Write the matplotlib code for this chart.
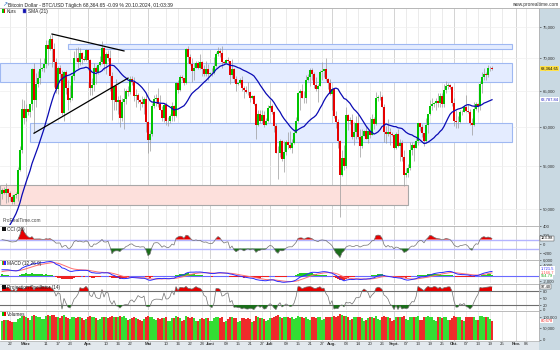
import numpy as np
import pandas as pd
import matplotlib
matplotlib.use('Agg')
import matplotlib.pyplot as plt
import matplotlib.dates as mdates
from matplotlib.patches import Rectangle
from matplotlib.ticker import FixedLocator, FuncFormatter, NullLocator

plt.rcParams['font.family'] = ['Liberation Sans', 'DejaVu Sans']

# daily closes before the visible window (only used to warm up the indicators), 08.01. - 17.02.2024
warmup_close = [46970, 46130, 46630, 46370, 42850, 42840, 41800, 42510, 43150, 42740, 41270, 41620,
                41670, 41550, 39510, 39850, 40080, 39930, 41820, 42120, 42030, 43300, 42940, 42580,
                43080, 43200, 43010, 42580, 42660, 43090, 44340, 45300, 47150, 47770, 48290, 49960,
                49700, 51800, 51940, 52130, 51660]

# visible candles 18.02. - 20.10.2024 (open = previous close)
close_feb = [52120, 51780, 52280, 51850, 51300, 50750, 51570, 51730, 54520, 57080, 62500, 61200]
high_feb = [52370, 52490, 52950, 52370, 52000, 51530, 51700, 51950, 54900, 57550, 63900, 63680]
low_feb = [51170, 51680, 50620, 50830, 50950, 50530, 50600, 51280, 50900, 54450, 56700, 60400]

close_mar = [62440, 62030, 63170, 68330, 63800, 66110, 66930, 68300, 68500, 69020, 72120, 71480, 73100, 71400,
             69400, 65300, 68390, 67600, 61930, 67840, 65500, 63800, 64100, 67200, 70000, 69990, 69450, 70780,
             69900, 69650, 71330]
high_mar = [63170, 62500, 63230, 68530, 69170, 67640, 67990, 69990, 68680, 70000, 72800, 72900, 73650, 73790,
            72400, 70000, 68800, 68900, 68100, 68030, 68200, 66600, 65950, 67500, 71100, 71500, 71700, 71500,
            70900, 70300, 71350]
low_mar = [60800, 61660, 61330, 62350, 59220, 62780, 65600, 66100, 68030, 67900, 68500, 68900, 71330, 68600,
           65600, 64800, 64600, 66600, 61600, 60800, 64600, 62300, 63400, 63800, 66700, 69500, 68400, 68900,
           69100, 69600, 69600]

close_apr = [69700, 65450, 65960, 68500, 67840, 68900, 69360, 71620, 69140, 70590, 70060, 67200, 63800, 65740,
             63420, 63810, 61280, 63510, 63840, 64990, 64930, 66840, 66410, 64290, 64500, 63770, 63460, 63120,
             63840, 60640]
high_apr = [71370, 69800, 66900, 69300, 68700, 69000, 70300, 72700, 71700, 71000, 71250, 71200, 67900, 65800,
            66800, 64360, 64450, 64000, 65450, 65400, 65700, 67200, 67200, 67100, 65300, 64800, 63900, 64300,
            64200, 64700]
low_apr = [68200, 64500, 64500, 65100, 66000, 67500, 68800, 69100, 68200, 67500, 69600, 65100, 61000, 62300,
           62300, 61800, 60000, 60900, 59700, 63200, 64300, 64600, 65900, 63600, 62800, 63300, 62400, 62800,
           61800, 59300]

close_may = [58250, 59120, 62890, 63890, 64030, 63160, 62330, 61190, 63050, 60790, 60790, 61450, 62900, 61550,
             66270, 65230, 67050, 66940, 66270, 71450, 70140, 69120, 67930, 68530, 69290, 68510, 69390, 68370,
             67620, 68370, 67490]
high_may = [60800, 59600, 63300, 64500, 64600, 65500, 64400, 62900, 63300, 63400, 61400, 61800, 63400, 63000,
            66400, 66700, 67400, 67400, 67000, 71500, 71900, 70600, 70000, 69200, 69500, 69500, 70600, 69500,
            68900, 69500, 69000]
low_may = [56600, 56900, 58800, 62600, 62900, 62800, 62300, 60900, 60700, 60300, 60200, 60600, 60800, 60800,
           61400, 64700, 65100, 66600, 65900, 66100, 69200, 68900, 66300, 66700, 68500, 68300, 68300, 67300,
           67200, 67200, 66700]

close_jun = [67710, 67750, 68800, 70560, 71080, 70760, 69340, 69300, 69650, 69510, 67330, 68240, 66760, 66010,
             66190, 66640, 65490, 65140, 64960, 64830, 64100, 64250, 63180, 60280, 61800, 60860, 61670, 60320,
             60890, 62680]
high_jun = [67900, 68400, 70200, 71000, 71700, 71600, 71900, 69600, 69900, 70100, 69600, 69900, 68400, 67300,
            66400, 66900, 67200, 65700, 65700, 66400, 65000, 64500, 64500, 63300, 62300, 62400, 62300, 62200,
            61200, 63000]
low_jun = [67400, 67300, 67600, 68600, 70300, 70100, 68500, 69100, 69200, 69200, 66100, 66900, 66300, 65100,
           65900, 66000, 65100, 64100, 64700, 64500, 63400, 63900, 63100, 58400, 60200, 60600, 60600, 60000,
           60300, 60700]

close_jul = [62850, 62030, 60170, 56650, 56640, 58230, 55860, 56710, 58050, 57720, 57340, 57900, 59230, 60800,
             64720, 65040, 64090, 63990, 66680, 67150, 68190, 67550, 65930, 65370, 65780, 67900, 68000, 68250,
             66780, 66190, 64630]
high_jul = [63800, 63200, 62200, 60500, 57500, 58400, 58300, 58200, 58300, 59400, 59500, 58500, 59800, 61400,
            64900, 65400, 66100, 65100, 67400, 67600, 68400, 68400, 67800, 67100, 66100, 68200, 69400, 68300,
            70000, 67000, 66800]
low_jul = [62500, 61800, 59400, 56600, 53500, 56100, 55700, 54300, 56400, 57200, 57100, 56600, 57800, 59200,
           60700, 62400, 64000, 63300, 63300, 66500, 65800, 66600, 65500, 65100, 63500, 65700, 66700, 67100,
           66500, 65400, 64500]

close_aug = [65350, 61500, 60680, 58120, 53990, 56030, 55030, 61710, 60880, 60940, 58710, 59350, 60610, 58740,
             57560, 58870, 59480, 58480, 59490, 59010, 61160, 60380, 64090, 64180, 64220, 62830, 59420, 59030,
             59380, 59120, 58970]
high_aug = [65600, 65500, 62200, 61100, 58300, 57000, 57700, 62700, 61800, 61400, 61800, 60700, 61500, 61800,
            59800, 59800, 59600, 60200, 59600, 61400, 61800, 61400, 64900, 64500, 65000, 64500, 63200, 60200,
            61100, 59900, 59400]
low_aug = [62300, 61200, 59900, 57300, 49100, 53800, 54600, 54800, 59600, 60400, 58400, 57700, 58500, 58400,
           56200, 57300, 58800, 58400, 57900, 58600, 58900, 59800, 60300, 63600, 63800, 62800, 58100, 57900,
           58800, 57700, 58800]

close_sep = [57300, 59140, 57480, 57970, 56160, 53950, 54140, 54840, 57020, 57650, 57340, 58130, 60570, 60000,
             59180, 58190, 60310, 61760, 62950, 63200, 63350, 63580, 63340, 64280, 63150, 65180, 65790, 65890,
             65640, 63330]
high_sep = [59100, 59400, 59800, 58500, 58300, 57000, 54800, 55300, 58000, 58000, 57900, 58600, 60600, 60600,
            60400, 59200, 61300, 61800, 63800, 64100, 63500, 64000, 64700, 64800, 64700, 66000, 66500, 66200,
            66000, 65700]
low_sep = [57200, 57200, 57400, 55600, 55700, 52600, 53700, 53700, 54600, 56400, 55600, 57300, 57700, 59500,
           58700, 57500, 57900, 59200, 61600, 62400, 62800, 62400, 62700, 62700, 62700, 62700, 64800, 65400,
           65400, 62900]

close_oct = [60840, 60630, 60750, 62090, 62060, 62820, 62220, 62130, 60580, 60270, 62450, 63190, 62850, 66080,
             67040, 67610, 67390, 68420, 68430, 68364.65]
high_oct = [64100, 62400, 61500, 62400, 62400, 63000, 64400, 63200, 62500, 61300, 63400, 63500, 63300, 66500,
            67900, 68400, 67900, 68900, 68700, 68800]
low_oct = [60200, 59900, 59900, 60500, 61700, 62000, 62100, 61900, 60300, 58900, 60100, 62400, 62100, 62400,
           64800, 66700, 66700, 67100, 68000, 68100]

# volumes in thousands
vol_feb = [80, 84, 86, 84, 82, 78, 76, 75, 88, 95, 104, 102]
vol_mar = [98, 92, 86, 102, 108, 104, 100, 98, 88, 90, 104, 106, 102, 108, 106, 98, 96, 94, 104, 106,
           100, 94, 90, 96, 100, 94, 96, 98, 92, 86, 90]
vol_apr = [98, 102, 96, 98, 94, 86, 88, 98, 100, 96, 94, 100, 104, 96, 98, 100, 102, 100, 104, 92,
           84, 90, 92, 96, 94, 90, 84, 82, 90, 100]
vol_may = [104, 100, 98, 88, 86, 92, 90, 92, 94, 96, 80, 82, 92, 94, 104, 96, 94, 82, 84, 104,
           100, 94, 96, 92, 82, 80, 90, 92, 90, 94, 92]
vol_jun = [80, 82, 92, 98, 96, 94, 98, 78, 80, 90, 96, 98, 94, 92, 78, 80, 92, 94, 90, 92,
           90, 76, 80, 102, 98, 92, 94, 90, 80, 84]
vol_jul = [94, 92, 98, 104, 106, 96, 92, 100, 98, 96, 94, 96, 90, 92, 102, 100, 96, 94, 98, 88,
           86, 96, 98, 94, 100, 96, 86, 88, 98, 96, 98]
vol_aug = [100, 104, 100, 102, 112, 106, 102, 104, 98, 86, 90, 98, 96, 98, 100, 94, 82, 84, 94, 96,
           96, 94, 102, 88, 86, 96, 102, 98, 96, 94, 82]
vol_sep = [84, 96, 98, 98, 96, 104, 88, 86, 100, 98, 96, 98, 102, 86, 84, 98, 100, 102, 98, 96,
           84, 82, 96, 98, 94, 100, 96, 86, 84, 94]
vol_oct = [102, 100, 98, 96, 84, 82, 98, 96, 100, 98, 96, 86, 84, 102, 104, 100, 98, 100, 88, 80.678]

# drawn zones and trend lines: start, end, low, high
zone_top = ['2024-03-22', '2024-10-30', 71430, 72230]
zone_mid = ['2024-02-17', '2024-10-30', 66330, 69290]
zone_low = ['2024-03-03', '2024-10-30', 58090, 60600]
zone_pink = ['2024-02-17', '2024-09-08', 50450, 52780]
trend_top = [('2024-03-14', 73840), ('2024-04-19', 71110)]
trend_bottom = [('2024-03-05', 59200), ('2024-04-21', 66930)]

tick_dates = ['2024-02-22', '2024-03-01', '2024-03-11', '2024-03-17', '2024-03-23', '2024-04-01', '2024-04-10',
              '2024-04-16', '2024-04-22', '2024-05-01', '2024-05-10', '2024-05-16', '2024-05-22', '2024-05-28',
              '2024-06-01', '2024-06-09', '2024-06-15', '2024-06-21', '2024-06-27', '2024-07-01', '2024-07-09',
              '2024-07-15', '2024-07-21', '2024-07-27', '2024-08-01', '2024-08-08', '2024-08-14', '2024-08-20',
              '2024-08-26', '2024-09-01', '2024-09-07', '2024-09-13', '2024-09-19', '2024-09-25', '2024-10-01',
              '2024-10-07', '2024-10-13', '2024-10-19', '2024-10-25', '2024-11-01', '2024-11-06']
tick_labels = ['22', 'März', '11', '17', '23', 'Apr.', '10', '16', '22', 'Mai', '10', '16', '22', '28',
               'Juni', '09', '15', '21', '27', 'Juli', '09', '15', '21', '27', 'Aug.', '08', '14', '20', '26',
               'Sept.', '07', '13', '19', '25', 'Okt.', '07', '13', '19', '25', 'Nov.', '06']
month_labels = ['März', 'Apr.', 'Mai', 'Juni', 'Juli', 'Aug.', 'Sept.', 'Okt.', 'Nov.']

GREEN = '#00c400'
RED = '#e60000'
W, H = 560, 350

# ---- series ----
dates = pd.date_range('2024-02-18', '2024-10-20', freq='D')
close = np.array(close_feb + close_mar + close_apr + close_may + close_jun + close_jul + close_aug + close_sep + close_oct, float)
high = np.array(high_feb + high_mar + high_apr + high_may + high_jun + high_jul + high_aug + high_sep + high_oct, float)
low = np.array(low_feb + low_mar + low_apr + low_may + low_jun + low_jul + low_aug + low_sep + low_oct, float)
vol = np.array(vol_feb + vol_mar + vol_apr + vol_may + vol_jun + vol_jul + vol_aug + vol_sep + vol_oct, float) * 1000
opn = np.concatenate([[warmup_close[-1]], close[:-1]])
x = mdates.date2num(dates)
up = close >= opn
nw = len(warmup_close)

all_c = np.concatenate([warmup_close, close])
all_h = np.concatenate([warmup_close, high])
all_l = np.concatenate([warmup_close, low])
s = pd.Series(all_c)

sma = s.rolling(21).mean().values[nw:]

tp = pd.Series((all_h + all_l + all_c) / 3)
md = tp.rolling(20).apply(lambda v: np.mean(np.abs(v - v.mean())), raw=True)
cci = ((tp - tp.rolling(20).mean()) / (0.015 * md)).values[nw:]

macd_all = s.ewm(span=12, adjust=False).mean() - s.ewm(span=26, adjust=False).mean()
sig_all = macd_all.ewm(span=9, adjust=False).mean()
macd = macd_all.values[nw:]
signal = sig_all.values[nw:]
hist = macd - signal


def projection_osc(h, l, c, n=14):
    out = np.full(len(c), np.nan)
    idx = np.arange(n)
    for t in range(n - 1, len(c)):
        m = np.polyfit(idx, c[t - n + 1:t + 1], 1)[0]
        shift = m * (n - 1 - idx)
        ub = np.max(h[t - n + 1:t + 1] - shift)
        lb = np.min(l[t - n + 1:t + 1] - shift)
        out[t] = 100 * (c[t] - lb) / (ub - lb)
    return out


po = projection_osc(all_h, all_l, all_c)[nw:]

# ---- figure ----
fig = plt.figure(figsize=(W / 100, H / 100), dpi=100)
fig.patch.set_facecolor('white')

x0 = mdates.date2num(pd.Timestamp('2024-02-17'))
x1 = x0 + 539 / 2
tick_x = mdates.date2num(pd.to_datetime(tick_dates))


def px_rect(left, top, w, h, **kw):
    fig.add_artist(Rectangle((left / W, 1 - (top + h) / H), w / W, h / H, transform=fig.transFigure, **kw))


def px_text(left, top, txt, **kw):
    fig.text(left / W, 1 - top / H, txt, **kw)


# right price column and bottom date strip
px_rect(539, 8, 21, 342, facecolor='#c9d9e2', edgecolor='none', zorder=-1)
px_rect(0, 341, 539, 9, facecolor='#e2e8ed', edgecolor='none', zorder=-1)
fig.add_artist(plt.Line2D([0, 1], [1 - 8 / H, 1 - 8 / H], transform=fig.transFigure, color='#b8b8b8', lw=0.6))


def panel(top, bottom, ylim):
    ax = fig.add_axes([0, 1 - bottom / H, 539 / W, (bottom - top) / H])
    ax.set_xlim(x0, x1)
    ax.set_ylim(*ylim)
    for sp in ['left', 'bottom']:
        ax.spines[sp].set_visible(False)
    for sp in ['top', 'right']:
        ax.spines[sp].set_color('#b0b0b0')
        ax.spines[sp].set_linewidth(0.6)
    ax.yaxis.tick_right()
    ax.tick_params(axis='y', labelsize=3.1, length=1.5, width=0.4, pad=1.0, colors='#333333')
    ax.tick_params(axis='x', bottom=False, labelbottom=False)
    for tx, lab in zip(tick_x, tick_labels):
        ax.axvline(tx, color='#cccccc' if lab in month_labels else '#e8e8e8', lw=0.6, zorder=0)
    return ax


def side_label(ax, val, txt, fc='white', ec='none', color='black', frac=None):
    if frac is None:
        xy, coords = (1, val), ('axes fraction', 'data')
    else:
        xy, coords = (1, frac), 'axes fraction'
    ax.annotate(txt, xy=xy, xycoords=coords, xytext=(1.2, 0),
                textcoords='offset points', fontsize=2.9, va='center', ha='left', color=color,
                annotation_clip=False, bbox=dict(boxstyle='square,pad=0.12', fc=fc, ec=ec, lw=0.3))


# main price panel
ax = panel(8, 225, (48250, 78250))
ax.set_yscale('log')
ax.set_ylim(48250, 78250)
price_ticks = [50000, 55000, 60000, 65000, 70000, 75000]
ax.yaxis.set_major_locator(FixedLocator(price_ticks))
ax.yaxis.set_minor_locator(NullLocator())
ax.yaxis.set_major_formatter(FuncFormatter(lambda v, p: f'{v:,.0f}'))
for pt in price_ticks:
    ax.axhline(pt, color='#eeeeee', lw=0.5, zorder=0)

for z, fc, ec in [(zone_top, '#e4ecff', '#9fb8f2'), (zone_mid, '#e4ecff', '#9fb8f2'),
                  (zone_low, '#e4ecff', '#9fb8f2'), (zone_pink, '#fde0dc', '#a8a8a8')]:
    zx0 = mdates.date2num(pd.Timestamp(z[0]))
    zx1 = mdates.date2num(pd.Timestamp(z[1]))
    ax.add_patch(Rectangle((zx0, z[2]), zx1 - zx0, z[3] - z[2], facecolor=fc, edgecolor=ec, lw=0.8, zorder=1))

ax.vlines(x, low, high, color='#9a9a9a', lw=0.5, zorder=2)
ax.bar(x, np.abs(close - opn), bottom=np.minimum(close, opn), width=0.7,
       color=np.where(up, GREEN, RED), lw=0, zorder=3)
ax.plot(x, sma, color='#0a0ab4', lw=0.9, zorder=4)

for tl in [trend_top, trend_bottom]:
    tx = mdates.date2num(pd.to_datetime([p[0] for p in tl]))
    ax.plot(tx, [p[1] for p in tl], color='black', lw=0.9, zorder=5)

side_label(ax, close[-1], f'{close[-1]:,.2f}', fc='#ffe24a')
side_label(ax, sma[-1], f'{sma[-1]:,.2f}', color='#2020c0')
ax.text(0.004, 0.012, 'ProRealTime.com', transform=ax.transAxes, fontsize=3.4, color='#444444')

# CCI
ax_cci = panel(226, 259, (-333, 400))
ax_cci.set_yticks([400, 200, 0, -200])
for lv in [100, -100]:
    ax_cci.axhline(lv, color='#b4b4ff', lw=1.0, zorder=1)
ax_cci.plot(x, cci, color='#707070', lw=0.5, zorder=3)
ax_cci.fill_between(x, cci, 100, where=cci > 100, interpolate=True, color=RED, lw=0, zorder=2)
ax_cci.fill_between(x, cci, -100, where=cci < -100, interpolate=True, color='#1b6e1b', lw=0, zorder=2)
side_label(ax_cci, cci[-1], f'{cci[-1]:.2f}', ec='#333333')

# MACD
ax_macd = panel(260, 283, (-2640, 6040))
ax_macd.set_yticks([6000, 4000, -2000])
ax_macd.yaxis.set_major_formatter(FuncFormatter(lambda v, p: f'{v:,.0f}'))
ax_macd.axhline(0, color='#6a6aff', lw=0.8, zorder=1)
ax_macd.bar(x, hist, width=0.55, color=np.where(hist >= 0, '#22cc22', '#ee2222'), lw=0, zorder=2)
ax_macd.plot(x, signal, color='#ff7070', lw=0.7, zorder=3)
ax_macd.plot(x, macd, color='#2a2aff', lw=0.7, zorder=4)
side_label(ax_macd, 0, f'{macd[-1]:,.1f}', color='#2a2aff', frac=(283 - 268.5) / 23)
side_label(ax_macd, 0, f'{signal[-1]:,.1f}', color='#ff5050', frac=(283 - 272.3) / 23)
side_label(ax_macd, 0, f'{hist[-1]:,.2f}', color='#22aa22', frac=(283 - 276.1) / 23)

# Projection Oscillator
ax_po = panel(284, 310, (-1.4, 110))
ax_po.set_yticks([80, 50, 20, 0])
for lv in [80, 20]:
    ax_po.axhline(lv, color='#6e6e6e', lw=0.8, zorder=1)
ax_po.plot(x, po, color='#707070', lw=0.5, zorder=3)
ax_po.fill_between(x, po, 80, where=po > 80, interpolate=True, color=RED, lw=0, zorder=2)
ax_po.fill_between(x, po, 20, where=po < 20, interpolate=True, color='#1b6e1b', lw=0, zorder=2)
side_label(ax_po, po[-1], f'{po[-1]:.2f}', ec='#333333')

# Volumes
ax_vol = panel(311, 341, (-6000, 124000))
ax_vol.set_yticks([100000, 50000, 0])
ax_vol.yaxis.set_major_formatter(FuncFormatter(lambda v, p: f'{v:,.0f}'))
ax_vol.bar(x, vol, width=0.7, color=np.where(up, '#33dd33', '#ee2b2b'), lw=0, zorder=2)
side_label(ax_vol, vol[-1], f'{vol[-1]:,.0f}', color='#ee2222')
ax_vol.spines['bottom'].set_visible(True)
ax_vol.spines['bottom'].set_color('#b0b0b0')
ax_vol.spines['bottom'].set_linewidth(0.5)
ax_vol.set_xticks(tick_x)
ax_vol.set_xticklabels(tick_labels)
ax_vol.tick_params(axis='x', bottom=False, length=0, labelbottom=True, labelsize=3.2, pad=0.8, colors='#333333')
for t in ax_vol.get_xticklabels():
    if t.get_text() in month_labels:
        t.set_fontweight('bold')

# header, legend and panel titles
px_text(2, 5, '\u2197', fontsize=4.5, color='#2f6fc0', va='center')
px_text(8, 5, 'Bitcoin Dollar - BTC/USD Täglich 68,364.65 -0.09 % 20.10.2024, 01:03:39',
        fontsize=3.6, color='#222222', va='center')
px_text(558, 4.5, 'www.prorealtime.com', fontsize=3.4, color='#333333', va='center', ha='right')

px_rect(2, 9, 1.6, 4, facecolor=GREEN, edgecolor='none', zorder=6)
px_rect(3.6, 9, 1.6, 4, facecolor=RED, edgecolor='none', zorder=6)
px_text(6.5, 11.2, 'Kurs', fontsize=3.4, color='#222222', va='center')
px_rect(23, 9, 3.4, 4, facecolor='#1010b0', edgecolor='#6666cc', lw=0.3, zorder=6)
px_text(27.5, 11.2, 'SMA (21)', fontsize=3.4, color='#222222', va='center')

for top, label, cols in [(226, 'CCI (20)', ['#111111']),
                         (260, 'MACD (12 26 9)', ['#22cc22', '#ee2222', '#2a2aff']),
                         (284, 'Projection Oscillator (14)', ['#111111']),
                         (311, 'Volumes', [GREEN, RED])]:
    w = 3.6 / len(cols)
    for i, c in enumerate(cols):
        px_rect(2 + i * w, top + 1.2, w, 3.6, facecolor=c, edgecolor='none', zorder=6)
    px_text(7, top + 3.2, label, fontsize=3.4, color='#222222', va='center')

fig.savefig('out.png', dpi=100)
